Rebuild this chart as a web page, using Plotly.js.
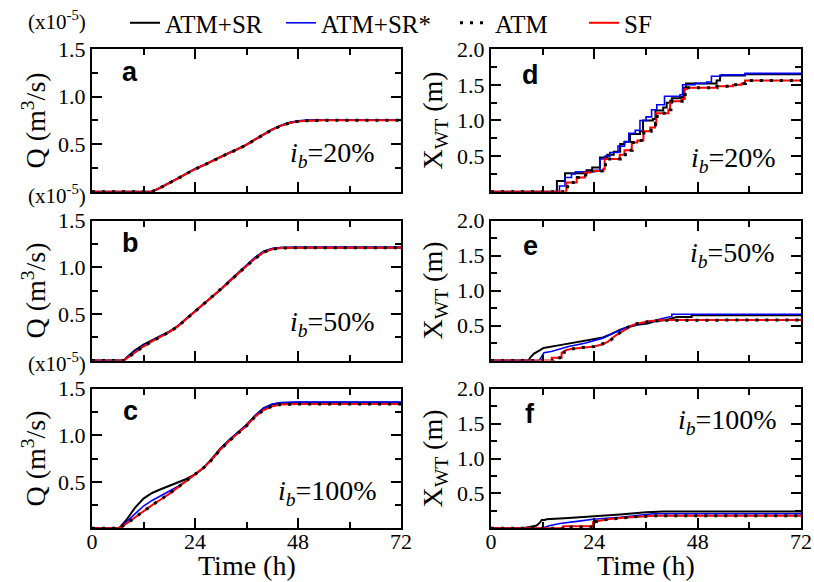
<!DOCTYPE html>
<html>
<head>
<meta charset="utf-8">
<script src="https://cdn.plot.ly/plotly-3.0.1.min.js"></script>
<style>html,body{margin:0;padding:0;background:#fff;}#chart{width:814px;height:582px;}</style>
</head>
<body>
<div id="chart"></div>
<script>
// ---------------- DATA ----------------
const seriesNames = ["ATM+SR", "ATM+SR*", "ATM", "SF"];
const xTicks = [0, 24, 48, 72];
const qTicks = [0.5, 1.0, 1.5];
const xwtTicks = [0.5, 1.0, 1.5, 2.0];
const panelLetters = ["a", "b", "c", "d", "e", "f"];
const ibLabels = ["20%", "50%", "100%", "20%", "50%", "100%"];

// Panel a: Q (x1e-5 m3/s), i_b = 20%
const tA = [0, 14, 16, 18, 20, 22, 24, 26, 28, 30, 32, 34, 36, 38, 40, 42, 44, 46, 48, 50, 54, 72];
const qA_SR  = [0, 0, 0.045, 0.09, 0.14, 0.19, 0.24, 0.28, 0.325, 0.37, 0.41, 0.45, 0.495, 0.55, 0.605, 0.655, 0.695, 0.725, 0.742, 0.75, 0.755, 0.755];
const qA_SRs = [0, 0, 0.045, 0.09, 0.14, 0.19, 0.24, 0.28, 0.325, 0.37, 0.41, 0.45, 0.495, 0.55, 0.605, 0.655, 0.697, 0.727, 0.745, 0.752, 0.757, 0.757];
const qA_ATM = [0, 0, 0.043, 0.088, 0.138, 0.188, 0.238, 0.278, 0.323, 0.368, 0.408, 0.448, 0.493, 0.548, 0.603, 0.653, 0.693, 0.723, 0.74, 0.748, 0.753, 0.753];
const qA_SF  = [0, 0, 0.043, 0.088, 0.138, 0.188, 0.238, 0.278, 0.323, 0.368, 0.408, 0.448, 0.493, 0.548, 0.603, 0.653, 0.693, 0.723, 0.74, 0.748, 0.753, 0.753];

// Panel b: Q, i_b = 50%
const tB = [0, 7.5, 8, 10, 12, 14, 16, 18, 20, 22, 24, 26, 28, 30, 32, 34, 36, 38, 40, 42, 44, 48, 72];
const qB_SR  = [0, 0, 0.03, 0.11, 0.17, 0.22, 0.265, 0.31, 0.37, 0.45, 0.525, 0.6, 0.68, 0.76, 0.85, 0.935, 1.02, 1.1, 1.165, 1.197, 1.207, 1.21, 1.21];
const qB_SRs = [0, 0, 0.025, 0.1, 0.16, 0.215, 0.262, 0.31, 0.37, 0.45, 0.527, 0.603, 0.683, 0.763, 0.853, 0.94, 1.025, 1.105, 1.17, 1.2, 1.21, 1.212, 1.212];
const qB_ATM = [0, 0, 0.02, 0.09, 0.15, 0.205, 0.255, 0.305, 0.365, 0.445, 0.52, 0.595, 0.675, 0.755, 0.845, 0.93, 1.012, 1.092, 1.16, 1.192, 1.205, 1.208, 1.208];
const qB_SF  = [0, 0, 0.02, 0.09, 0.15, 0.205, 0.255, 0.305, 0.365, 0.445, 0.52, 0.595, 0.675, 0.755, 0.845, 0.93, 1.012, 1.092, 1.16, 1.192, 1.205, 1.208, 1.208];

// Panel c: Q, i_b = 100%
const tC = [0, 6.3, 8, 10, 12, 14, 16, 18, 20, 22, 24, 26, 28, 30, 32, 34, 36, 38, 40, 42, 44, 48, 72];
const qC_SR  = [0, 0, 0.09, 0.22, 0.32, 0.38, 0.42, 0.455, 0.49, 0.53, 0.58, 0.65, 0.75, 0.86, 0.95, 1.03, 1.11, 1.21, 1.29, 1.33, 1.345, 1.35, 1.35];
const qC_SRs = [0, 0, 0.07, 0.16, 0.24, 0.3, 0.35, 0.4, 0.45, 0.51, 0.58, 0.65, 0.75, 0.86, 0.95, 1.03, 1.11, 1.21, 1.29, 1.335, 1.35, 1.355, 1.355];
const qC_ATM = [0, 0, 0.05, 0.12, 0.19, 0.25, 0.31, 0.37, 0.44, 0.51, 0.58, 0.65, 0.74, 0.85, 0.94, 1.02, 1.1, 1.2, 1.27, 1.31, 1.33, 1.335, 1.335];
const qC_SF  = [0, 0, 0.05, 0.12, 0.19, 0.25, 0.31, 0.37, 0.44, 0.51, 0.58, 0.65, 0.74, 0.85, 0.94, 1.02, 1.1, 1.2, 1.27, 1.31, 1.33, 1.335, 1.335];

// Panel d: X_WT (m), i_b = 20%  (step series)
const tD_SR  = [0, 15.3, 17.2, 22.2, 23.5, 25.3, 27, 28.5, 30, 31, 32.3, 34.6, 35.3, 37.6, 38.2, 40, 40.8, 42, 44, 44.7, 45.3, 52.4, 53.2, 59, 72];
const xD_SR  = [0, 0.15, 0.26, 0.30, 0.34, 0.48, 0.52, 0.56, 0.67, 0.70, 0.81, 0.85, 1.0, 1.02, 1.14, 1.18, 1.25, 1.31, 1.33, 1.46, 1.52, 1.56, 1.63, 1.65, 1.65];
const tD_SRs = [0, 15.9, 17.2, 18.7, 19.6, 24.2, 25.3, 26.5, 27.6, 29.5, 31, 32, 33.5, 34.6, 36, 37.3, 38.5, 40.3, 43.9, 44.5, 47.4, 50.1, 51.2, 53.5, 59, 72];
const xD_SRs = [0, 0.08, 0.2, 0.25, 0.28, 0.30, 0.46, 0.5, 0.55, 0.64, 0.7, 0.82, 0.86, 1.0, 1.05, 1.15, 1.22, 1.34, 1.36, 1.5, 1.52, 1.54, 1.62, 1.64, 1.66, 1.66];
const tD_ATM = [0, 17.8, 20.1, 22, 23.2, 26.2, 26.6, 30, 31.2, 32.8, 34.2, 35.5, 37.2, 38.2, 38.6, 41.3, 41.8, 44.4, 45.1, 45.6, 52.5, 56.3, 58.3, 59.1, 72];
const xD_ATM = [0, 0.13, 0.2, 0.27, 0.29, 0.32, 0.46, 0.52, 0.58, 0.69, 0.72, 0.85, 0.9, 0.96, 1.10, 1.15, 1.27, 1.30, 1.44, 1.46, 1.48, 1.50, 1.52, 1.56, 1.56];
const tD_SF  = [0, 17.5, 19.9, 21.8, 23, 26.1, 26.4, 29.9, 31, 32.7, 34, 35.4, 37, 38.1, 38.4, 41.2, 41.6, 44.3, 45, 45.5, 52.4, 56.2, 58.2, 59, 72];
const xD_SF  = [0, 0.13, 0.2, 0.27, 0.29, 0.32, 0.46, 0.52, 0.58, 0.69, 0.72, 0.85, 0.9, 0.96, 1.10, 1.15, 1.27, 1.30, 1.44, 1.46, 1.48, 1.50, 1.52, 1.56, 1.56];

// Panel e: X_WT, i_b = 50%
const tE_SR  = [0, 8.7, 9.2, 10, 11.4, 12.2, 16, 20, 24.5, 26, 28, 30, 32, 34, 36.4, 38, 40.8, 43.1, 46.6, 46.6, 72];
const xE_SR  = [0, 0, 0.05, 0.1, 0.15, 0.18, 0.22, 0.26, 0.31, 0.33, 0.38, 0.44, 0.48, 0.51, 0.53, 0.56, 0.58, 0.62, 0.62, 0.645, 0.645];
const tE_SRs = [0, 11.2, 11.6, 12.3, 14, 16, 18, 22, 24, 26, 28, 30, 32, 34, 36, 38, 40.5, 42, 42, 72];
const xE_SRs = [0, 0, 0.04, 0.11, 0.13, 0.17, 0.2, 0.25, 0.28, 0.32, 0.38, 0.44, 0.49, 0.52, 0.54, 0.57, 0.61, 0.63, 0.66, 0.66];
const tE_ATM = [0, 14.5, 14.5, 17, 17, 18.5, 20, 24, 26, 28, 30, 32, 34, 36, 40, 72];
const xE_ATM = [0, 0, 0.04, 0.04, 0.12, 0.16, 0.18, 0.2, 0.24, 0.3, 0.4, 0.48, 0.53, 0.55, 0.575, 0.58];
const tE_SF  = [0, 14.1, 14.1, 16.4, 16.4, 17.5, 19, 24, 25.7, 27.2, 29, 31, 33, 35, 37, 40, 72];
const xE_SF  = [0, 0, 0.04, 0.04, 0.11, 0.15, 0.17, 0.2, 0.23, 0.27, 0.36, 0.44, 0.51, 0.54, 0.565, 0.58, 0.58];

// Panel f: X_WT, i_b = 100%
const tF_SR  = [0, 7, 9, 10.6, 11.4, 11.8, 12.5, 12.9, 18, 24, 30, 36, 40, 72];
const xF_SR  = [0, 0, 0.02, 0.04, 0.086, 0.12, 0.12, 0.13, 0.15, 0.17, 0.2, 0.23, 0.24, 0.24];
const tF_SRs = [0, 11.8, 13.7, 16, 20, 23.7, 30, 37.7, 72];
const xF_SRs = [0, 0, 0.04, 0.07, 0.1, 0.13, 0.16, 0.21, 0.21];
const tF_ATM = [0, 17, 17, 24, 24, 25.2, 27.2, 30.2, 34.2, 38.2, 72];
const xF_ATM = [0, 0, 0.02, 0.02, 0.09, 0.11, 0.13, 0.15, 0.17, 0.18, 0.18];
const tF_SF  = [0, 16.8, 16.8, 23.7, 23.7, 25, 27, 30, 34, 38, 72];
const xF_SF  = [0, 0, 0.03, 0.03, 0.09, 0.11, 0.13, 0.15, 0.17, 0.18, 0.18];

// ---------------- STYLE / BUILD ----------------
const styles = {
  "ATM+SR":  {color: "#000000", width: 2},
  "ATM+SR*": {color: "#0000ff", width: 1.6},
  "ATM":     {color: "#000000", width: 3, dash: "3px,7px"},
  "SF":      {color: "#ff0000", width: 2}
};
const legendIds = {"ATM+SR": "legend", "ATM+SR*": "legend2", "ATM": "legend3", "SF": "legend4"};
const drawOrder = ["ATM+SR", "ATM+SR*", "SF", "ATM"];

const panels = [
  {ax: "", t: {"ATM+SR": tA, "ATM+SR*": tA, "ATM": tA, "SF": tA}, v: {"ATM+SR": qA_SR, "ATM+SR*": qA_SRs, "ATM": qA_ATM, "SF": qA_SF}, shape: "linear"},
  {ax: "2", t: {"ATM+SR": tB, "ATM+SR*": tB, "ATM": tB, "SF": tB}, v: {"ATM+SR": qB_SR, "ATM+SR*": qB_SRs, "ATM": qB_ATM, "SF": qB_SF}, shape: "linear"},
  {ax: "3", t: {"ATM+SR": tC, "ATM+SR*": tC, "ATM": tC, "SF": tC}, v: {"ATM+SR": qC_SR, "ATM+SR*": qC_SRs, "ATM": qC_ATM, "SF": qC_SF}, shape: "linear"},
  {ax: "4", t: {"ATM+SR": tD_SR, "ATM+SR*": tD_SRs, "ATM": tD_ATM, "SF": tD_SF}, v: {"ATM+SR": xD_SR, "ATM+SR*": xD_SRs, "ATM": xD_ATM, "SF": xD_SF}, shape: "hv"},
  {ax: "5", t: {"ATM+SR": tE_SR, "ATM+SR*": tE_SRs, "ATM": tE_ATM, "SF": tE_SF}, v: {"ATM+SR": xE_SR, "ATM+SR*": xE_SRs, "ATM": xE_ATM, "SF": xE_SF}, shape: "linear"},
  {ax: "6", t: {"ATM+SR": tF_SR, "ATM+SR*": tF_SRs, "ATM": tF_ATM, "SF": tF_SF}, v: {"ATM+SR": xF_SR, "ATM+SR*": xF_SRs, "ATM": xF_ATM, "SF": xF_SF}, shape: "linear"}
];

const data = [];
panels.forEach((p, i) => {
  drawOrder.forEach(name => {
    data.push({
      type: "scatter", mode: "lines", name: name,
      x: p.t[name], y: p.v[name],
      xaxis: "x" + p.ax, yaxis: "y" + p.ax,
      line: Object.assign({shape: p.shape}, styles[name]),
      showlegend: i === 0, legend: legendIds[name], hoverinfo: "skip"
    });
  });
});

const serif = "Liberation Serif";
const W = 814, H = 582;
const colX = [[92 / W, 401 / W], [491 / W, 801 / W]];
const rowY = [[1 - 189 / H, 1 - 45.5 / H], [1 - 359 / H, 1 - 218 / H], [1 - 528 / H, 1 - 387.3 / H]];

function xAx(dom, anchor, bottom) {
  return {
    domain: dom, anchor: anchor, range: [0, 72],
    tickmode: "array", tickvals: xTicks, ticktext: xTicks.map(String),
    ticks: "inside", ticklen: 10, tickwidth: 2, tickcolor: "#000",
    minor: {tickmode: "linear", tick0: 0, dtick: 12, ticks: "inside", ticklen: 6, tickwidth: 2, tickcolor: "#000"},
    showline: true, linewidth: 2, linecolor: "#000", mirror: "ticks",
    showgrid: false, zeroline: false, showticklabels: bottom,
    ticklabelstandoff: -8,
    tickfont: {family: serif, size: 22, color: "#000"},
    title: {text: ""},
    automargin: false, fixedrange: true
  };
}
function yAx(dom, anchor, right) {
  const vals = right ? xwtTicks : qTicks;
  return {
    domain: dom, anchor: anchor, range: right ? [0, 2] : [0, 1.5],
    tickmode: "array", tickvals: vals, ticktext: vals.map(v => v.toFixed(1)),
    ticks: "inside", ticklen: 10, tickwidth: 2, tickcolor: "#000",
    minor: {tickmode: "linear", tick0: 0, dtick: 0.25, ticks: "inside", ticklen: 6, tickwidth: 2, tickcolor: "#000"},
    showline: true, linewidth: 2, linecolor: "#000", mirror: "ticks",
    showgrid: false, zeroline: false,
    tickfont: {family: serif, size: 22, color: "#000"},
    title: {text: right ? "X<sub>WT</sub> (m)" : "Q (m<sup>3</sup>/s)", font: {family: serif, size: 28, color: "#000"}, standoff: right ? 6 : 4},
    automargin: false, fixedrange: true
  };
}

const legFont = {family: serif, size: 25, color: "#000"};
function leg(px) {
  return {orientation: "h", x: px / W, xanchor: "left", y: 1 + 4 / H, yanchor: "top",
          font: legFont, bgcolor: "rgba(0,0,0,0)", borderwidth: 0};
}
const layout = {
  width: W, height: H, margin: {l: 0, r: 0, t: 0, b: 0},
  paper_bgcolor: "#fff", plot_bgcolor: "#fff",
  showlegend: true,
  legend: leg(125), legend2: leg(281), legend3: leg(455), legend4: leg(584),
  annotations: []
};
const axNames = ["", "2", "3", "4", "5", "6"];
axNames.forEach((a, i) => {
  const col = i < 3 ? 0 : 1, row = i % 3;
  layout["xaxis" + a] = xAx(colX[col], "y" + a, row === 2);
  layout["yaxis" + a] = yAx(rowY[row], "x" + a, col === 1);
});

// x-axis titles (bottom row)
["3", "6"].forEach(a => {
  layout.annotations.push({
    xref: "x" + a + " domain", yref: "paper", x: 0.5, y: 1 - 565 / H, xanchor: "center", yanchor: "middle",
    text: "Time (h)", showarrow: false, font: {family: serif, size: 28, color: "#000"}
  });
});

// panel letters and i_b labels
const letterPos = [[0.123, 0.84], [0.123, 0.84], [0.123, 0.84], [0.126, 0.82], [0.126, 0.82], [0.126, 0.82]];
const ibPos = [[0.922, 0.26], [0.922, 0.265], [0.93, 0.256], [0.926, 0.229], [0.923, 0.757], [0.93, 0.767]];
axNames.forEach((a, i) => {
  layout.annotations.push({
    xref: "x" + a + " domain", yref: "y" + a + " domain",
    x: letterPos[i][0], y: letterPos[i][1], xanchor: "center", yanchor: "middle",
    text: "<b>" + panelLetters[i] + "</b>", showarrow: false,
    font: {family: "Liberation Sans", size: 27, color: "#000"}
  });
  layout.annotations.push({
    xref: "x" + a + " domain", yref: "y" + a + " domain",
    x: ibPos[i][0], y: ibPos[i][1], xanchor: "right", yanchor: "middle",
    text: "<i>i</i><sub><i>b</i></sub>=" + ibLabels[i], showarrow: false,
    font: {family: serif, size: 28, color: "#000"}
  });
});
// scale labels
[17, 192, 361].forEach(py => {
  layout.annotations.push({
    xref: "paper", yref: "paper", x: 26 / W, y: 1 - py / H, xanchor: "left", yanchor: "middle",
    text: "(x10<sup>-5</sup>)", showarrow: false, font: {family: serif, size: 21, color: "#000"}
  });
});

Plotly.newPlot("chart", data, layout, {staticPlot: true, displayModeBar: false});
</script>
</body>
</html>
